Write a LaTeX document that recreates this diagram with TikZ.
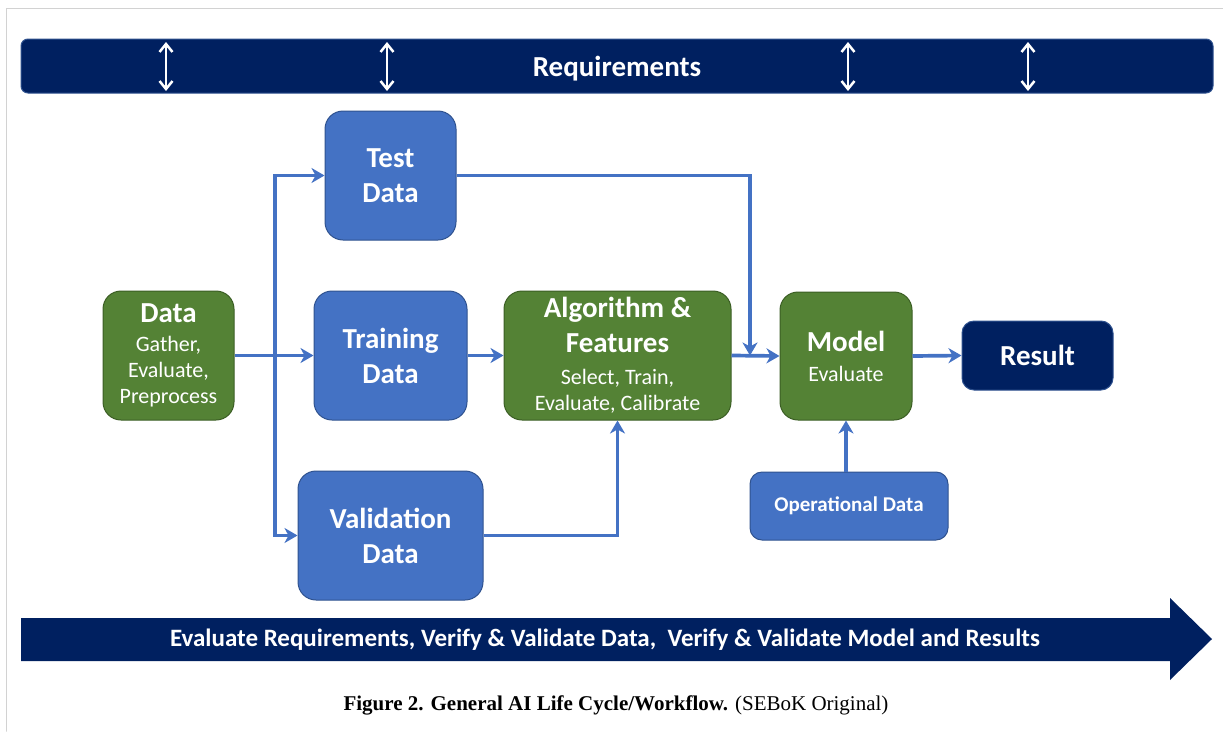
\documentclass[tikz,border=0pt]{standalone}
\usepackage{fontspec}
\setmainfont{Liberation Serif}
\setsansfont{Carlito}
\usetikzlibrary{arrows.meta}

\definecolor{navy}{HTML}{002060}
\definecolor{boxblue}{HTML}{4472C4}
\definecolor{boxgreen}{HTML}{548235}
\definecolor{blueedge}{HTML}{2F528F}
\definecolor{greenedge}{HTML}{3B5E24}
\newcommand\hdfont{\fontsize{29}{35}\selectfont\bfseries}
\newcommand\smfont{\fontsize{22}{26}\selectfont}

\begin{document}
\begin{tikzpicture}[x=1pt,y=-1pt,line cap=round,
  box/.style={rounded corners=18pt,line width=1pt,text=white,align=center,inner sep=0pt},
  bluebox/.style={box,fill=boxblue,draw=blueedge},
  greenbox/.style={box,fill=boxgreen,draw=greenedge},
  navybox/.style={box,fill=navy,draw=blueedge},
  flow/.style={boxblue,line width=3.7pt,line cap=butt,-{Stealth[length=13pt,width=15pt,inset=4pt]}},
  reqarrow/.style={white,line width=2.5pt,{Straight Barb[length=8pt,width=13pt]}-{Straight Barb[length=8pt,width=13pt]}}]
  \useasboundingbox (0,0) rectangle (1223,731);
  \draw[gray!35,line width=1.5pt] (6.5,731) -- (6.5,8.5) -- (1223,8.5);

  \node[navybox,rounded corners=7pt,minimum width=1192pt,minimum height=54pt,text depth=0pt,font=\sffamily\hdfont] (req) at (617,66) {Requirements};
  \foreach \x in {166,387,848,1028}
    \draw[reqarrow] (\x,42) -- (\x,91);

  \node[greenbox,minimum width=131pt,minimum height=129pt,font=\sffamily\smfont] (data) at (168.5,355.5)
    {{\hdfont Data}\\[3pt]Gather,\\Evaluate,\\Preprocess};
  \node[bluebox,minimum width=131pt,minimum height=129pt,font=\sffamily\hdfont] (test) at (390.5,175.5) {Test\\Data};
  \node[bluebox,minimum width=153pt,minimum height=129pt,font=\sffamily\hdfont] (train) at (390.5,355.5) {Training\\Data};
  \node[bluebox,minimum width=185pt,minimum height=129pt,font=\sffamily\hdfont] (valid) at (390.5,535.5) {Validation\\Data};
  \node[greenbox,minimum width=227pt,minimum height=129pt,font=\sffamily\smfont] (algo) at (617.5,355.5)
    {{\hdfont Algorithm \&}\\[9pt]{\hdfont Features}\\[6pt]Select, Train,\\Evaluate, Calibrate};
  \node[greenbox,minimum width=132pt,minimum height=128pt,font=\sffamily\smfont] (model) at (846,356)
    {{\hdfont Model}\\[4pt]Evaluate};
  \node[navybox,rounded corners=12pt,minimum width=151pt,minimum height=69pt,font=\sffamily\hdfont] (result) at (1037.5,355.5) {Result};
  \node[bluebox,rounded corners=12pt,minimum width=198pt,minimum height=68pt,font=\sffamily\bfseries\fontsize{21}{25}\selectfont] (oper) at (849,506) {Operational Data};

  \coordinate (split) at (275,355.5);
  \coordinate (drop) at (750,355.5);
  \draw[flow] (data.east) -- (train.west);
  \draw[flow] (split) |- (test.west);
  \draw[flow] (split) |- (valid.west);
  \draw[flow] (train.east) -- (algo.west);
  \draw[flow] (algo.east) -- (model.west);
  \draw[flow] (test.east) -| (drop);
  \draw[flow] (valid.east) -| (algo.south);
  \draw[flow] (model.east) -- (result.west);
  \draw[flow] (model.south |- oper.north) -- (model.south);

  \fill[navy] (21,618) -- (1170,618) -- (1170,598) -- (1212,639) -- (1170,680) -- (1170,661) -- (21,661) -- cycle;
  \node[text=white,font=\sffamily\bfseries\fontsize{25}{30}\selectfont] (evalbar) at (605,640)
    {Evaluate Requirements, Verify \& Validate Data,\ \ Verify \& Validate Model and Results};

  \node[font=\fontsize{21}{25}\selectfont] (caption) at (616,705)
    {\textbf{Figure 2. General AI Life Cycle/Workflow.} (SEBoK Original)};
\end{tikzpicture}
\end{document}
